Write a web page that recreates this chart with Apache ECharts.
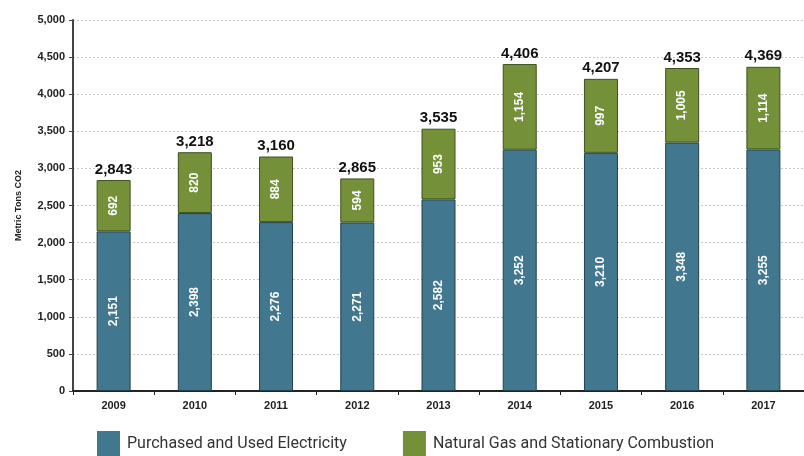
<!DOCTYPE html>
<html>
<head>
<meta charset="utf-8">
<script src="https://cdn.jsdelivr.net/npm/echarts@6/dist/echarts.min.js"></script>
<style>
  html, body { margin: 0; padding: 0; background: #fff; }
  #chart { width: 804px; height: 456px; }
</style>
</head>
<body>
<div id="chart"></div>
<script>
// data
var years = ['2009', '2010', '2011', '2012', '2013', '2014', '2015', '2016', '2017']
var electricity = [2151, 2398, 2276, 2271, 2582, 3252, 3210, 3348, 3255]
var naturalGas = [692, 820, 884, 594, 953, 1154, 997, 1005, 1114]
var seriesNames = ['Purchased and Used Electricity', 'Natural Gas and Stationary Combustion']

var totals = electricity.map(function (v, i) { return v + naturalGas[i] })

function fmt(n) {
  return String(n).replace(/\B(?=(\d{3})+(?!\d))/g, ',')
}

var font = '"Liberation Sans", Arial, sans-serif'

var insideLabel = {
  show: true,
  position: 'inside',
  rotate: 90,
  color: '#fff',
  fontFamily: font,
  fontWeight: 'bold',
  fontSize: 12,
  formatter: function (p) { return fmt(p.value) }
}

var myChart = echarts.init(document.getElementById('chart'))
myChart.setOption({
  animation: false,
  grid: { left: 73, right: -8, top: 20, bottom: 65 },
  legend: {
    data: seriesNames,
    left: 97,
    top: 431,
    padding: 0,
    icon: 'rect',
    itemWidth: 23,
    itemHeight: 25,
    itemGap: 56,
    itemStyle: { borderWidth: 0 },
    textStyle: { fontFamily: 'Roboto, sans-serif', fontSize: 16, color: '#333', padding: [6, 0, 0, 2] }
  },
  xAxis: {
    type: 'category',
    data: years,
    axisLine: { lineStyle: { color: '#222', width: 2 } },
    axisTick: { show: true, length: 4, lineStyle: { color: '#222' } },
    axisLabel: { color: '#222', fontWeight: 'bold', fontSize: 11, fontFamily: font, margin: 9 }
  },
  yAxis: {
    type: 'value',
    min: 0,
    max: 5000,
    interval: 500,
    name: 'Metric Tons CO2',
    nameLocation: 'middle',
    nameRotate: 90,
    nameGap: 50,
    nameTextStyle: { color: '#222', fontWeight: 'bold', fontSize: 9, fontFamily: font },
    axisLine: { show: true, lineStyle: { color: '#444', width: 2 } },
    axisTick: { show: true, length: 4, lineStyle: { color: '#444' } },
    axisLabel: {
      color: '#222', fontWeight: 'bold', fontSize: 11, fontFamily: font, margin: 8,
      formatter: function (v) { return fmt(v) }
    },
    splitLine: { lineStyle: { color: '#c8c8c8', type: [2, 2] } }
  },
  series: [
    {
      name: seriesNames[0],
      type: 'bar',
      stack: 'total',
      barWidth: 34,
      data: electricity,
      itemStyle: { color: '#41788f', borderColor: '#23404c', borderWidth: 1 },
      label: insideLabel
    },
    {
      name: seriesNames[1],
      type: 'bar',
      stack: 'total',
      data: naturalGas,
      itemStyle: { color: '#74913a', borderColor: '#3e5020', borderWidth: 1 },
      label: insideLabel
    },
    {
      // zero-height cap carrying the total label
      name: 'total',
      type: 'bar',
      stack: 'total',
      data: totals.map(function () { return 0 }),
      itemStyle: { color: 'transparent' },
      label: {
        show: true,
        position: 'top',
        distance: 3,
        color: '#111',
        fontWeight: 'bold',
        fontSize: 15,
        fontFamily: font,
        formatter: function (p) { return fmt(totals[p.dataIndex]) }
      }
    }
  ]
})
</script>
</body>
</html>
